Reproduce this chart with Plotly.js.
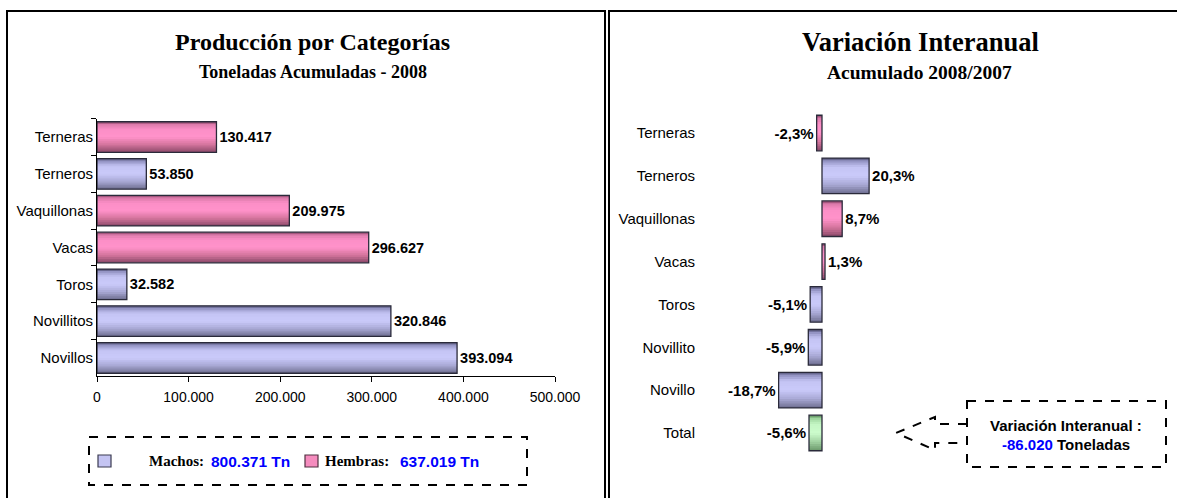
<!DOCTYPE html>
<html>
<head>
<meta charset="utf-8">
<script src="https://cdn.plot.ly/plotly-3.0.1.min.js"></script>
<style>html,body{margin:0;padding:0;background:#fff}#chart{width:1177px;height:498px}</style>
</head>
<body>
<div id="chart"></div>
<script>
// ---------- DATA ----------
const catsProd = ['Terneras','Terneros','Vaquillonas','Vacas','Toros','Novillitos','Novillos'];
const tonProd  = [130417, 53850, 209975, 296627, 32582, 320846, 393094];
const sexProd  = ['H','M','H','H','M','M','M'];

const catsVar = ['Terneras','Terneros','Vaquillonas','Vacas','Toros','Novillito','Novillo','Total'];
const pctVar  = [-2.3, 20.3, 8.7, 1.3, -5.1, -5.9, -18.7, -5.6];
const grpVar  = ['H','M','H','H','M','M','M','T'];

const totalMachos = 800371;
const totalHembras = 637019;
const variacionTon = -86020;

// ---------- HELPERS ----------
const W = 1177, H = 498;
const px = x => x / W;
const py = y => 1 - y / H;
function fmtThousands(v){
  const s = Math.abs(Math.round(v)).toString().replace(/\B(?=(\d{3})+(?!\d))/g, '.');
  return (v < 0 ? '-' : '') + s;
}
const PAL = {
  M: [[0,'#4a4a6a'],[0.07,'#8e8ebe'],[0.25,'#c4c4f4'],[0.5,'#cacafa'],[0.75,'#a8a8d4'],[1,'#6c6c8e']],
  H: [[0,'#7a3a5c'],[0.07,'#d878a8'],[0.25,'#fb8ec6'],[0.5,'#ff92ca'],[0.75,'#d4749c'],[1,'#8a4868']],
  T: [[0,'#4a7a4a'],[0.07,'#98d098'],[0.25,'#c4f6c4'],[0.5,'#ccfccc'],[0.75,'#a0d0a0'],[1,'#6a986a']]
};
function hex2rgb(h){ return [1,3,5].map(i => parseInt(h.substr(i,2),16)); }
function interp(stops, t){
  for (let k=0;k<stops.length-1;k++){
    const [t0,c0] = stops[k], [t1,c1] = stops[k+1];
    if (t >= t0 && t <= t1){
      const f = (t - t0)/(t1 - t0);
      const a = hex2rgb(c0), b = hex2rgb(c1);
      const c = a.map((v,i)=>Math.round(v + (b[i]-v)*f));
      return 'rgb(' + c.join(',') + ')';
    }
  }
  return stops[stops.length-1][1];
}
function gradientBars(cats, vals, groups, xa, ya, width, n){
  const out = [];
  const bw = width / n;
  for (let i=0;i<n;i++){
    const t = (i + 0.5)/n;
    out.push({
      type:'bar', orientation:'h', x: vals, y: cats, xaxis: xa, yaxis: ya,
      width: i < n-1 ? bw*1.6 : bw, offset: -width/2 + i*bw,
      marker:{color: groups.map(g => interp(PAL[g], t)), line:{width:0}},
      hoverinfo:'skip', showlegend:false
    });
  }
  return out;
}

const BARW = 0.83;
const NB = 16;
const sans = 'Liberation Sans, Arial, sans-serif';
const serif = 'Liberation Serif, Times New Roman, serif';

const traces = [
  ...gradientBars(catsProd, tonProd, sexProd, 'x', 'y', BARW, NB),
  {
    type:'bar', orientation:'h', x: tonProd, y: catsProd, xaxis:'x', yaxis:'y',
    width: BARW, marker:{color:'rgba(0,0,0,0)', line:{color:'#2a2a3a', width:1.3}},
    texttemplate:'%{x:,.0f}', textposition:'outside', cliponaxis:false,
    textfont:{family:sans, size:14.5, color:'#000', weight:'bold'},
    hoverinfo:'x+y', showlegend:false
  },
  ...gradientBars(catsVar, pctVar, grpVar, 'x2', 'y2', BARW, NB),
  {
    type:'bar', orientation:'h', x: pctVar, y: catsVar, xaxis:'x2', yaxis:'y2',
    width: BARW, marker:{color:'rgba(0,0,0,0)', line:{color:'#2a2a3a', width:1.3}},
    texttemplate:'%{x:.1f}%', textposition:'outside', cliponaxis:false,
    textfont:{family:sans, size:15, color:'#000', weight:'bold'},
    hoverinfo:'x+y', showlegend:false
  }
];

const X2RANGE = [-50, 150];
const X2DOM = [px(706), px(1170)];
const zeroPos = X2DOM[0] + (0 - X2RANGE[0])/(X2RANGE[1]-X2RANGE[0])*(X2DOM[1]-X2DOM[0]);

const legendY = py(461);
const layout = {
  width: W, height: H,
  margin:{l:0,r:0,t:0,b:0},
  paper_bgcolor:'#fff', plot_bgcolor:'rgba(0,0,0,0)',
  separators: ',.',
  barmode:'overlay',
  showlegend:false,
  font:{family:sans, color:'#000'},
  xaxis:{
    domain:[px(97), px(555)], range:[0, 500000], anchor:'y',
    tick0:0, dtick:100000, tickformat:',.0f',
    ticks:'outside', ticklen:5, tickcolor:'#000',
    showline:true, linecolor:'#000', linewidth:1,
    showgrid:false, zeroline:false,
    tickfont:{family:sans, size:14, color:'#000'}, ticklabelstandoff:3
  },
  yaxis:{
    domain:[py(376.4), py(118.6)], anchor:'x', type:'category',
    categoryarray: catsProd, categoryorder:'array', autorange:'reversed',
    ticks:'outside', tickson:'boundaries', ticklen:5, tickcolor:'#000',
    showline:true, linecolor:'#000', linewidth:1, showgrid:false,
    tickfont:{family:sans, size:15, color:'#000'}
  },
  xaxis2:{
    domain: X2DOM, range: X2RANGE, anchor:'y2', visible:false, fixedrange:true
  },
  yaxis2:{
    domain:[py(454.4), py(111.6)], anchor:'x2', type:'category',
    categoryarray: catsVar, categoryorder:'array', autorange:'reversed',
    ticks:'', showline:false, showgrid:false, ticklabelstandoff:10,
    tickfont:{family:sans, size:15, color:'#000'}
  },
  yaxis3:{
    overlaying:'y2', anchor:'free', position: zeroPos, side:'left',
    range:[7.5, -0.5], tick0:0.5, dtick:1,
    ticks:'outside', ticklen:4, tickcolor:'#000',
    showticklabels:false, showline:true, linecolor:'#000', linewidth:1,
    showgrid:false, zeroline:false
  },
  shapes:[
    // panel frames
    {type:'rect', xref:'paper', yref:'paper', x0:px(7), x1:px(605), y0:py(11), y1:py(520), line:{color:'#000', width:2}},
    {type:'rect', xref:'paper', yref:'paper', x0:px(609), x1:px(1200), y0:py(11), y1:py(520), line:{color:'#000', width:2}},
    // legend box
    {type:'rect', xref:'paper', yref:'paper', x0:px(89), x1:px(527), y0:py(437), y1:py(485), line:{color:'#000', width:2, dash:'dash'}},
    {type:'rect', xref:'paper', yref:'paper', x0:px(98), x1:px(111), y0:py(455), y1:py(467), fillcolor:'#c4c4f2', line:{color:'#3a3a50', width:1.2}},
    {type:'rect', xref:'paper', yref:'paper', x0:px(305), x1:px(318), y0:py(455), y1:py(467), fillcolor:'#f58cbe', line:{color:'#503040', width:1.2}},
    // variation callout
    {type:'rect', xref:'paper', yref:'paper', x0:px(967), x1:px(1166), y0:py(401), y1:py(467), line:{color:'#000', width:2, dash:'dash'}},
    {type:'path', xref:'paper', yref:'paper',
      path: 'M' + px(967) + ',' + py(424) + ' L' + px(935) + ',' + py(424) + ' L' + px(935) + ',' + py(417) +
            ' L' + px(896) + ',' + py(433) + ' L' + px(935) + ',' + py(450) + ' L' + px(935) + ',' + py(443) +
            ' L' + px(967) + ',' + py(443),
      line:{color:'#000', width:2, dash:'dash'}}
  ],
  annotations:[
    {xref:'paper', yref:'paper', x:px(312), y:py(42), text:'<b>Producción por Categorías</b>', showarrow:false,
      font:{family:serif, size:24, color:'#000'}, xanchor:'center', yanchor:'middle'},
    {xref:'paper', yref:'paper', x:px(313), y:py(72), text:'<b>Toneladas Acumuladas - 2008</b>', showarrow:false,
      font:{family:serif, size:18, color:'#000'}, xanchor:'center', yanchor:'middle'},
    {xref:'paper', yref:'paper', x:px(920), y:py(42), text:'<b>Variación Interanual</b>', showarrow:false,
      font:{family:serif, size:26.5, color:'#000'}, xanchor:'center', yanchor:'middle'},
    {xref:'paper', yref:'paper', x:px(919), y:py(72), text:'<b>Acumulado 2008/2007</b>', showarrow:false,
      font:{family:serif, size:19.5, color:'#000'}, xanchor:'center', yanchor:'middle'},
    {xref:'paper', yref:'paper', x:px(206), y:legendY, text:'<b>Machos:</b>', showarrow:false,
      font:{family:serif, size:15, color:'#000'}, xanchor:'right', yanchor:'middle'},
    {xref:'paper', yref:'paper', x:px(209), y:legendY, text:'<b>' + fmtThousands(totalMachos) + ' Tn</b>', showarrow:false,
      font:{family:sans, size:15.5, color:'#0000ff'}, xanchor:'left', yanchor:'middle'},
    {xref:'paper', yref:'paper', x:px(391), y:legendY, text:'<b>Hembras:</b>', showarrow:false,
      font:{family:serif, size:15, color:'#000'}, xanchor:'right', yanchor:'middle'},
    {xref:'paper', yref:'paper', x:px(398), y:legendY, text:'<b>' + fmtThousands(totalHembras) + ' Tn</b>', showarrow:false,
      font:{family:sans, size:15.5, color:'#0000ff'}, xanchor:'left', yanchor:'middle'},
    {xref:'paper', yref:'paper', x:px(1066), y:py(425), text:'<b>Variación Interanual :</b>', showarrow:false,
      font:{family:sans, size:15, color:'#000'}, xanchor:'center', yanchor:'middle'},
    {xref:'paper', yref:'paper', x:px(1066), y:py(444),
      text:'<b><span style="color:#0000ff">' + fmtThousands(variacionTon) + '</span> Toneladas</b>', showarrow:false,
      font:{family:sans, size:15, color:'#000'}, xanchor:'center', yanchor:'middle'}
  ]
};

Plotly.newPlot('chart', traces, layout, {displayModeBar:false, staticPlot:true});
</script>
</body>
</html>
